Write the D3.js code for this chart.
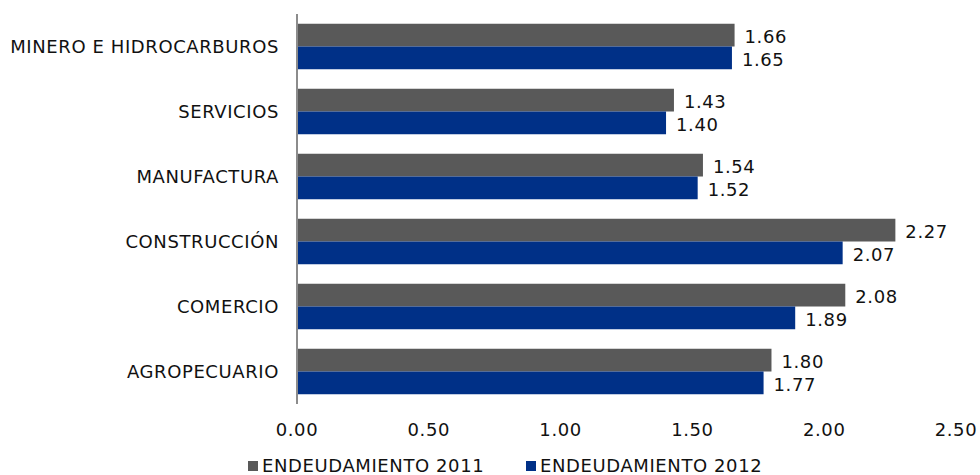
<!DOCTYPE html>
<meta charset="utf-8">
<script src="https://d3js.org/d3.v7.min.js"></script>
<style>
  body { margin: 0; background: #fff; }
  text { font-family: "DejaVu Sans", Verdana, sans-serif; fill: #111; font-size: 18px; letter-spacing: 0.6px; }
</style>
<body>
<script>

// data
var categories = ["MINERO E HIDROCARBUROS", "SERVICIOS", "MANUFACTURA", "CONSTRUCCIÓN", "COMERCIO", "AGROPECUARIO"];
var values2011 = [1.66, 1.43, 1.54, 2.27, 2.08, 1.80];
var values2012 = [1.65, 1.40, 1.52, 2.07, 1.89, 1.77];
var seriesNames = ["ENDEUDAMIENTO 2011", "ENDEUDAMIENTO 2012"];
var tickValues = [0, 0.5, 1, 1.5, 2, 2.5];
var colors = ["#595959", "#003087"];

var width = 980, height = 475;
var svg = d3.select("body").append("svg")
    .attr("width", width)
    .attr("height", height);

var x = d3.scaleLinear().domain([0, 2.5]).range([297, 956]);
var y = d3.scaleBand().domain(categories).range([14, 404])
    .paddingInner(0.3).paddingOuter(0.15);
var sub = d3.scaleBand().domain([0, 1]).range([0, y.bandwidth()]);

var rows = categories.map(function(c, i) {
    return {cat: c, vals: [values2011[i], values2012[i]]};
});

var g = svg.selectAll(".row").data(rows).enter().append("g")
    .attr("transform", function(d) { return "translate(0," + y(d.cat) + ")"; });

g.selectAll("rect").data(function(d) { return d.vals; }).enter().append("rect")
    .attr("x", x(0))
    .attr("y", function(d, i) { return sub(i); })
    .attr("width", function(d) { return x(d) - x(0); })
    .attr("height", sub.bandwidth())
    .style("fill", function(d, i) { return colors[i]; });

g.selectAll(".val").data(function(d) { return d.vals; }).enter().append("text")
    .attr("class", "val")
    .attr("x", function(d) { return x(d) + 10; })
    .attr("y", function(d, i) { return sub(i) + sub.bandwidth() / 2 + 1.5; })
    .attr("dy", "0.35em")
    .text(function(d) { return d.toFixed(2); });

// category labels
svg.selectAll(".cat").data(categories).enter().append("text")
    .attr("x", 279)
    .attr("y", function(d) { return y(d) + y.bandwidth() / 2; })
    .attr("dy", "0.35em")
    .attr("text-anchor", "end")
    .text(function(d) { return d; });

// vertical axis line
svg.append("line")
    .attr("x1", x(0)).attr("x2", x(0))
    .attr("y1", 14).attr("y2", 404)
    .style("stroke", "#8c8c8c").style("stroke-width", 2);

// x tick labels
svg.selectAll(".tick").data(tickValues).enter().append("text")
    .attr("x", function(d) { return x(d); })
    .attr("y", 430)
    .attr("dy", "0.35em")
    .attr("text-anchor", "middle")
    .text(function(d) { return d.toFixed(2); });

// legend
var legendX = [248, 526];
var legend = svg.selectAll(".legend").data(seriesNames).enter().append("g")
    .attr("transform", function(d, i) { return "translate(" + legendX[i] + ",466)"; });
legend.append("rect").attr("x", 0).attr("y", -5).attr("width", 10).attr("height", 10)
    .style("fill", function(d, i) { return colors[i]; });
legend.append("text").attr("x", 14).attr("dy", "0.35em")
    .text(String);

</script>
</body>
